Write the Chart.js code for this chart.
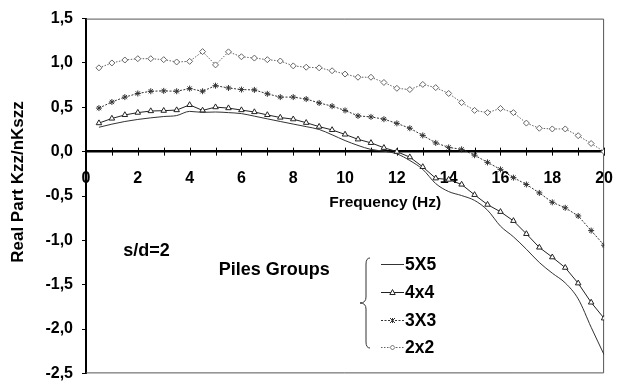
<!DOCTYPE html>
<html>
<head>
<meta charset="utf-8">
<script src="https://cdn.jsdelivr.net/npm/chart.js@4/dist/chart.umd.min.js"></script>
<style>
  html, body { margin: 0; padding: 0; background: #fff; }
  #wrap { width: 622px; height: 392px; }
</style>
</head>
<body>
<div id="wrap"><canvas id="c" width="622" height="392"></canvas></div>
<script>
// Frequency steps (Hz)
const freq = [0.5, 1, 1.5, 2, 2.5, 3, 3.5, 4, 4.5, 5, 5.5, 6, 6.5, 7, 7.5, 8, 8.5, 9, 9.5, 10,
              10.5, 11, 11.5, 12, 12.5, 13, 13.5, 14, 14.5, 15, 15.5, 16, 16.5, 17, 17.5, 18, 18.5, 19, 19.5, 20];

// Real part of the group vertical stiffness, normalised by n times the single-pile value
const pile5x5 = [0.275, 0.31, 0.34, 0.363, 0.381, 0.396, 0.407, 0.454, 0.443, 0.447,
                 0.44, 0.429, 0.40, 0.37, 0.34, 0.311, 0.282, 0.25, 0.19, 0.125,
                 0.07, 0.025, 0.005, -0.025, -0.10, -0.20, -0.36, -0.45, -0.495, -0.55,
                 -0.66, -0.84, -0.96, -1.10, -1.25, -1.37, -1.48, -1.66, -1.98, -2.29];
const pile4x4 = [0.322, 0.374, 0.414, 0.44, 0.458, 0.462, 0.469, 0.527, 0.465, 0.502,
                 0.491, 0.469, 0.447, 0.414, 0.385, 0.366, 0.326, 0.282, 0.245, 0.194,
                 0.139, 0.099, 0.044, 0.0, -0.062, -0.172, -0.30, -0.315, -0.37, -0.487,
                 -0.597, -0.678, -0.78, -0.927, -1.08, -1.19, -1.308, -1.484, -1.70, -1.879];
const pile3x3 = [0.491, 0.56, 0.615, 0.656, 0.681, 0.685, 0.681, 0.711, 0.681, 0.744,
                 0.718, 0.70, 0.696, 0.652, 0.615, 0.615, 0.593, 0.549, 0.513, 0.465,
                 0.403, 0.392, 0.366, 0.319, 0.264, 0.183, 0.099, 0.048, 0.026, -0.04,
                 -0.121, -0.20, -0.293, -0.37, -0.465, -0.571, -0.633, -0.725, -0.89, -1.055];
const pile2x2 = [0.945, 1.0, 1.033, 1.048, 1.048, 1.037, 1.011, 1.018, 1.128, 0.978,
                 1.125, 1.07, 1.055, 1.037, 1.022, 0.967, 0.952, 0.945, 0.912, 0.875,
                 0.839, 0.839, 0.78, 0.714, 0.70, 0.758, 0.722, 0.656, 0.553, 0.465,
                 0.44, 0.487, 0.44, 0.322, 0.264, 0.256, 0.256, 0.18, 0.092, 0.0];

const seriesNames = ['5X5', '4x4', '3X3', '2x2'];
const yAxisTitle = 'Real Part Kzz/nKszz';
const xAxisTitle = 'Frequency (Hz)';
const spacingNote = 's/d=2';
const groupCaption = 'Piles Groups';

const FONT = '"Liberation Sans", Arial, sans-serif';

const pts = arr => freq.map((f, i) => ({ x: f, y: arr[i] }));

const styles = [
  { color: '#333', dash: [], point: false, tension: true },
  { color: '#222', dash: [], point: 'triangle', r: 3.2, fill: '#fff' },
  { color: '#333', dash: [2, 1.5], point: 'star', r: 3, fill: '#fff' },
  { color: '#666', dash: [1.5, 1.5], point: 'rectRot', r: 3, fill: '#fff' }
];

const datasets = [pile5x5, pile4x4, pile3x3, pile2x2].map((arr, i) => {
  const s = styles[i];
  return {
    label: seriesNames[i],
    data: pts(arr),
    borderColor: s.color,
    borderWidth: 1,
    borderDash: s.dash,
    pointStyle: s.point || 'circle',
    pointRadius: s.point ? s.r : 0,
    pointBorderColor: s.color,
    pointBackgroundColor: s.fill || '#fff',
    pointBorderWidth: 1,
    cubicInterpolationMode: s.tension ? 'monotone' : 'default',
    tension: 0,
    fill: false
  };
});

// draw a legend marker in the same shape the series uses
function marker(ctx, kind, x, y, r, stroke, fill) {
  ctx.save();
  ctx.setLineDash([]);
  ctx.lineWidth = 1;
  ctx.strokeStyle = stroke;
  ctx.fillStyle = fill;
  ctx.beginPath();
  if (kind === 'triangle') {
    ctx.moveTo(x, y - r * 1.1);
    ctx.lineTo(x + r, y + r * 0.75);
    ctx.lineTo(x - r, y + r * 0.75);
    ctx.closePath();
    ctx.fill(); ctx.stroke();
  } else if (kind === 'rectRot') {
    ctx.moveTo(x, y - r); ctx.lineTo(x + r, y); ctx.lineTo(x, y + r); ctx.lineTo(x - r, y);
    ctx.closePath();
    ctx.fill(); ctx.stroke();
  } else if (kind === 'star') {
    ctx.moveTo(x - r, y - r); ctx.lineTo(x + r, y + r);
    ctx.moveTo(x + r, y - r); ctx.lineTo(x - r, y + r);
    ctx.moveTo(x, y - r); ctx.lineTo(x, y + r);
    ctx.stroke();
  }
  ctx.restore();
}

const decorations = {
  id: 'decorations',
  beforeDatasetsDraw(chart) {
    const { ctx, chartArea: a, scales: { x, y } } = chart;
    ctx.save();
    // plot frame (top, right, bottom)
    ctx.strokeStyle = '#555';
    ctx.lineWidth = 1;
    ctx.beginPath();
    ctx.moveTo(a.left, a.top + 0.5); ctx.lineTo(a.right - 0.5, a.top + 0.5);
    ctx.lineTo(a.right - 0.5, a.bottom - 0.5); ctx.lineTo(a.left, a.bottom - 0.5);
    ctx.stroke();
    // tick marks crossing the zero line
    const y0 = y.getPixelForValue(0);
    ctx.strokeStyle = '#000';
    ctx.beginPath();
    x.ticks.forEach(t => {
      if (t.value <= 0) return;
      const px = Math.round(x.getPixelForValue(t.value)) + 0.5;
      ctx.moveTo(px, y0 - 4); ctx.lineTo(px, y0 + 4);
    });
    ctx.stroke();
    ctx.restore();
  },
  afterDraw(chart) {
    const { ctx, scales: { x, y } } = chart;
    ctx.save();
    ctx.fillStyle = '#000';
    ctx.textBaseline = 'middle';

    // vertical axis title
    ctx.save();
    ctx.translate(18, 182);
    ctx.rotate(-Math.PI / 2);
    ctx.font = 'bold 17px ' + FONT;
    ctx.textAlign = 'center';
    ctx.fillText(yAxisTitle, 0, 0);
    ctx.restore();

    ctx.font = 'bold 15.5px ' + FONT;
    ctx.textAlign = 'center';
    ctx.fillText(xAxisTitle, x.getPixelForValue(11.55), y.getPixelForValue(-0.58));

    ctx.font = 'bold 18px ' + FONT;
    ctx.textAlign = 'left';
    ctx.fillText(spacingNote, x.getPixelForValue(1.44), y.getPixelForValue(-1.12));
    ctx.textAlign = 'center';
    ctx.fillText(groupCaption, x.getPixelForValue(7.27), y.getPixelForValue(-1.33));

    // bracketed legend
    const bx = 366, top = 258, bot = 348, mid = (top + bot) / 2;
    ctx.strokeStyle = '#333';
    ctx.lineWidth = 1;
    ctx.beginPath();
    ctx.moveTo(bx + 4, top);
    ctx.quadraticCurveTo(bx, top, bx, top + 6);
    ctx.lineTo(bx, mid - 6);
    ctx.quadraticCurveTo(bx, mid, bx - 6, mid);
    ctx.quadraticCurveTo(bx, mid, bx, mid + 6);
    ctx.lineTo(bx, bot - 6);
    ctx.quadraticCurveTo(bx, bot, bx + 4, bot);
    ctx.stroke();

    const rows = [264, 292, 320, 347];
    ctx.font = 'bold 17.5px ' + FONT;
    ctx.textAlign = 'left';
    chart.data.datasets.forEach((ds, i) => {
      const s = styles[i];
      const ly = rows[i];
      ctx.save();
      ctx.strokeStyle = s.color;
      ctx.lineWidth = 1;
      ctx.setLineDash(s.dash);
      ctx.beginPath();
      ctx.moveTo(381, ly + 0.5); ctx.lineTo(404, ly + 0.5);
      ctx.stroke();
      ctx.restore();
      if (s.point) marker(ctx, s.point, 392.5, ly + 0.5, s.r - 0.5, s.color, s.fill);
      ctx.fillStyle = '#000';
      ctx.fillText(ds.label, 405, ly + 1);
    });
    ctx.restore();
  }
};

const fmt = v => (Math.abs(v) < 1e-9 ? '0,0' : v.toFixed(1).replace('.', ','));

new Chart(document.getElementById('c'), {
  type: 'line',
  data: { datasets },
  options: {
    responsive: false,
    animation: false,
    layout: { padding: { left: 0, top: 18, right: 8, bottom: 9 } },
    plugins: { legend: { display: false }, tooltip: { enabled: false } },
    scales: {
      x: {
        type: 'linear',
        position: { y: 0 },
        min: 0, max: 20,
        grid: { display: false },
        border: { display: true, color: '#000', width: 2.5 },
        ticks: {
          stepSize: 1, autoSkip: false, maxRotation: 0, padding: 9,
          color: '#000', font: { family: FONT, size: 16, weight: 'bold' },
          callback: v => (v % 2 === 0 ? String(v) : '')
        }
      },
      y: {
        min: -2.5, max: 1.5,
        afterFit: s => { s.width = 86; },
        grid: { drawOnChartArea: false, drawTicks: true, tickLength: 4, color: '#000' },
        border: { display: true, color: '#000', width: 2 },
        ticks: {
          stepSize: 0.5, padding: 9, color: '#000',
          font: { family: FONT, size: 16, weight: 'bold' },
          callback: v => fmt(v)
        }
      }
    }
  },
  plugins: [decorations]
});
</script>
</body>
</html>
